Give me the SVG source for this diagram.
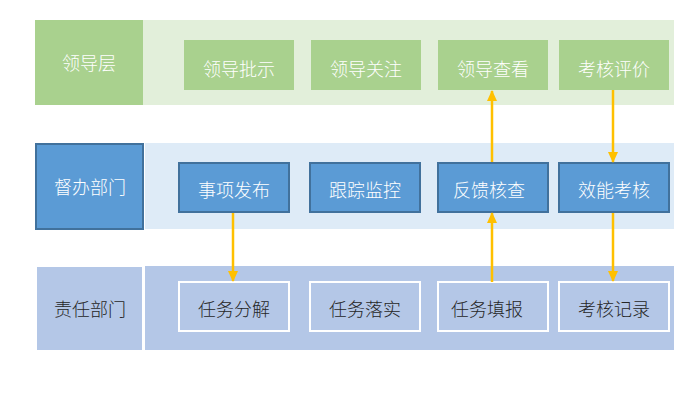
<svg xmlns="http://www.w3.org/2000/svg" width="680" height="402" viewBox="0 0 680 402">
<defs>
<style>
text{font-family:"Microsoft YaHei","Noto Sans CJK SC",sans-serif;font-size:18px;font-weight:300;text-anchor:middle;dominant-baseline:central}
.w{fill:#ffffff}
.d{fill:#262626}
.g{fill:#a9d18e}
.b{fill:#5b9bd5;stroke:#41719c;stroke-width:2}
.l{fill:#b4c7e7;stroke:#ffffff;stroke-width:2}
.conn{stroke:#ffc000;stroke-width:2.5;fill:none;marker-end:url(#ah)}
</style>
<marker id="ah" markerWidth="12" markerHeight="12" refX="10" refY="5.5" orient="auto" markerUnits="userSpaceOnUse">
<path d="M0,0.5 L11,5.5 L0,10.5 Z" fill="#ffc000"/>
</marker>
</defs>
<rect x="0" y="0" width="680" height="402" fill="#ffffff"/>
<g id="row1-bg"><rect x="143" y="20" width="531" height="85" fill="#e2efda"/></g>
<g id="row2-bg"><rect x="145" y="143" width="529" height="86" fill="#deebf7"/></g>
<g id="row3-bg"><rect x="145" y="266" width="529" height="84" fill="#b4c7e7"/></g>
<g id="h1"><rect x="35" y="20" width="108" height="85" class="g"/><text x="89" y="62" class="w">领导层</text></g>
<g id="h2"><rect x="36" y="144" width="107" height="85" class="b"/><text x="90" y="186" class="w">督办部门</text></g>
<g id="h3"><rect x="37" y="267" width="105" height="83" fill="#b4c7e7"/><text x="90" y="308" class="d">责任部门</text></g>
<g id="n11"><rect x="184" y="40" width="110" height="50" class="g"/><text x="239" y="68" class="w">领导批示</text></g>
<g id="n12"><rect x="311" y="40" width="110" height="50" class="g"/><text x="366" y="68" class="w">领导关注</text></g>
<g id="n13"><rect x="438" y="40" width="110" height="50" class="g"/><text x="493" y="68" class="w">领导查看</text></g>
<g id="n14"><rect x="559" y="40" width="110" height="50" class="g"/><text x="614" y="68" class="w">考核评价</text></g>
<g id="n21"><rect x="179" y="163" width="110" height="49" class="b"/><text x="234" y="189" class="w">事项发布</text></g>
<g id="n22"><rect x="310" y="163" width="110" height="49" class="b"/><text x="365" y="189" class="w">跟踪监控</text></g>
<g id="n23"><rect x="438" y="163" width="110" height="49" class="b"/><text x="489" y="189" class="w">反馈核查</text></g>
<g id="n24"><rect x="559" y="163" width="110" height="49" class="b"/><text x="614" y="189" class="w">效能考核</text></g>
<g id="n31"><rect x="179" y="282" width="110" height="49" class="l"/><text x="234" y="308" class="d">任务分解</text></g>
<g id="n32"><rect x="310" y="282" width="110" height="49" class="l"/><text x="365" y="308" class="d">任务落实</text></g>
<g id="n33"><rect x="438" y="282" width="110" height="49" class="l"/><text x="487" y="308" class="d">任务填报</text></g>
<g id="n34"><rect x="559" y="282" width="110" height="49" class="l"/><text x="614" y="308" class="d">考核记录</text></g>
<g id="connectors">
<line x1="233" y1="213" x2="233" y2="281" class="conn"/>
<line x1="492" y1="282" x2="492" y2="213" class="conn"/>
<line x1="492" y1="162" x2="492" y2="91" class="conn"/>
<line x1="613" y1="90" x2="613" y2="162" class="conn"/>
<line x1="613" y1="213" x2="613" y2="281" class="conn"/>
</g>
</svg>
